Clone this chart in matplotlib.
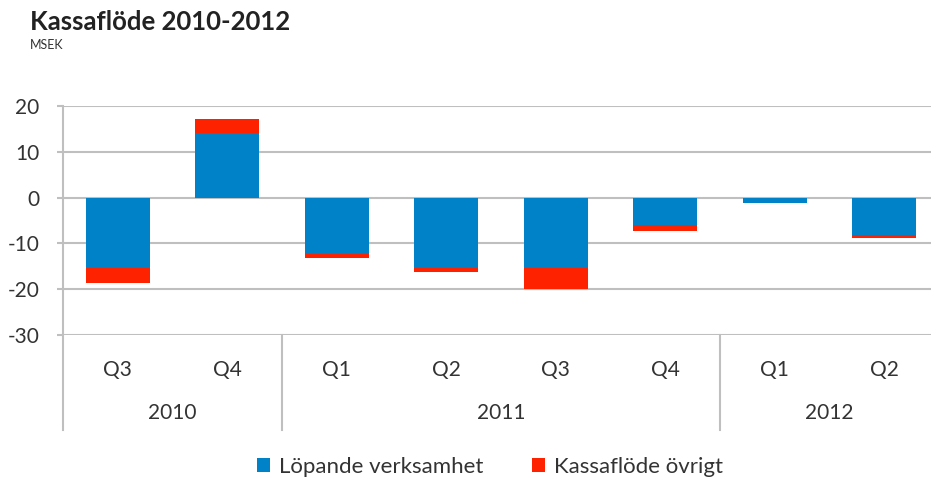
import matplotlib
matplotlib.use("Agg")
import matplotlib.pyplot as plt
import numpy as np

quarters = ["Q3", "Q4", "Q1", "Q2", "Q3", "Q4", "Q1", "Q2"]
years = ["2010", "2011", "2012"]
year_counts = [2, 4, 2]
lopande = [-15.3, 14.1, -12.3, -15.4, -15.4, -6.0, -1.1, -8.1]
ovrigt = [-3.3, 3.1, -0.9, -0.8, -4.6, -1.2, 0.0, -0.7]

blue = "#0082c8"
red = "#ff2200"
grey = "#bfbfbf"
txt = "#333333"

plt.rcParams["font.family"] = ["Lato", "DejaVu Sans"]
plt.rcParams["axes.unicode_minus"] = False

fig = plt.figure(figsize=(9.31, 4.8), dpi=100)
# plot area runs slightly past the right edge, as in the cropped original
ax = fig.add_axes([63 / 931, 1 - 335 / 480, 876 / 931, (335 - 106) / 480])

x = np.arange(len(quarters))
ax.bar(x, lopande, width=0.58, color=blue, label="Löpande verksamhet", zorder=3)
ax.bar(x, ovrigt, width=0.58, bottom=lopande, color=red, label="Kassaflöde övrigt", zorder=3)

ax.set_xlim(-0.5, len(quarters) - 0.5)
ax.set_ylim(-30, 20)
ax.set_yticks(range(-30, 21, 10))
ax.yaxis.grid(True, color=grey, linewidth=1.5, zorder=0)
ax.tick_params(axis="y", length=4, color=grey, width=1.5, labelsize=15, pad=13, labelcolor=txt)
ax.tick_params(axis="x", length=0, labelbottom=False)
for s in ["top", "right", "bottom"]:
    ax.spines[s].set_visible(False)
ax.spines["left"].set_color(grey)
ax.spines["left"].set_linewidth(1.5)

# category labels below the axis
trans = ax.get_xaxis_transform()
bottom_line = -(430 - 335) / (335 - 106)
for i, q in enumerate(quarters):
    ax.text(i, -(370 - 335) / (335 - 106), q, transform=trans, ha="center", va="center",
            fontsize=15, color=txt)
start = 0
for yr, n in zip(years, year_counts):
    ax.text(start + (n - 1) / 2, -(413 - 335) / (335 - 106), yr, transform=trans,
            ha="center", va="center", fontsize=15, color=txt)
    start += n
bounds = np.cumsum([0] + year_counts) - 0.5
for b in bounds:
    ax.plot([b, b], [0, bottom_line], transform=trans, color=grey, linewidth=1.5, clip_on=False)

fig.text(30 / 931, 1 - 22 / 480, "Kassaflöde 2010-2012", fontsize=18.5, fontweight="bold",
         va="center", color="#222222")
fig.text(30 / 931, 1 - 45 / 480, "MSEK", fontsize=9, color="#333333", va="center")

leg = fig.legend(loc="center", bbox_to_anchor=(490 / 931, 1 - 467 / 480), ncol=2, frameon=False,
                 fontsize=16, handlelength=0.6, handleheight=0.6, handletextpad=0.4,
                 columnspacing=2.2, borderpad=0)
for t in leg.get_texts():
    t.set_color(txt)

fig.savefig("out.png", dpi=100)
